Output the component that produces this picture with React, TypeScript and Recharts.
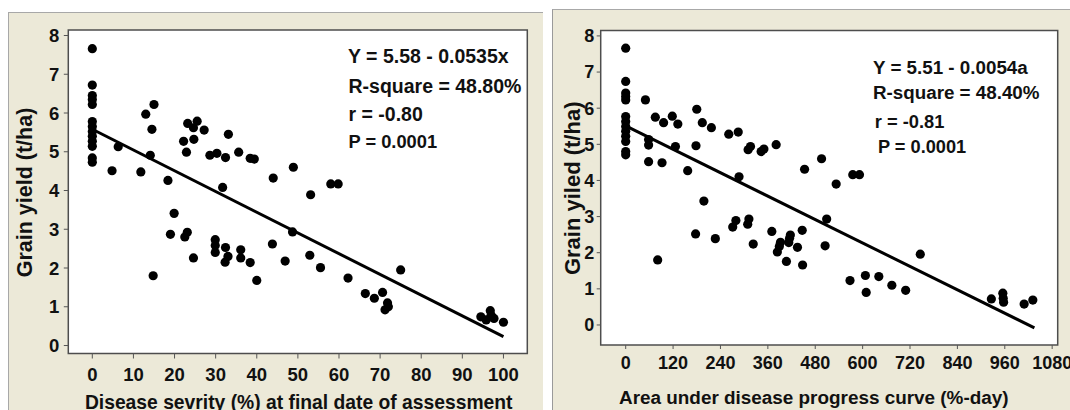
import React from "react";
import { ScatterChart, Scatter, XAxis, YAxis, ReferenceArea } from "recharts";

const FONT = "'Liberation Sans', Arial, Helvetica, sans-serif";

// ---- Left panel: disease severity (%) vs grain yield (t/ha)
const severity = [0, 0, 0, 0, 0, 0, 0, 0, 0, 0, 0, 0, 0,
  4.8, 6.3, 11.8, 13.0, 15.0, 14.5, 14.1, 14.8, 18.4, 19.9, 19.0, 22.5, 23.1, 22.2, 22.9,
  23.2, 24.6, 25.5, 24.7, 27.2, 24.6, 28.6, 30.3, 32.4, 33.1, 31.7, 35.6, 38.4, 39.4, 29.9,
  29.9, 29.9, 32.4, 33.0, 32.3, 36.1, 36.1, 38.4, 40.0, 43.8, 46.9, 48.7, 44.0, 48.9, 52.9,
  55.5, 53.1, 58.0, 59.8, 62.2, 66.4, 68.6, 70.6, 71.8, 72.0, 71.2, 75.0, 94.5, 95.8, 96.8,
  97.0, 97.7, 100.0];
const severityYield = [7.66, 6.72, 6.45, 6.35, 6.22, 5.78, 5.65, 5.52, 5.4, 5.27, 5.14, 4.84, 4.73,
  4.51, 5.13, 4.48, 5.97, 6.22, 5.58, 4.91, 1.8, 4.26, 3.41, 2.87, 2.8, 2.92, 5.27, 4.99,
  5.73, 5.62, 5.79, 5.32, 5.56, 2.26, 4.91, 4.96, 4.85, 5.45, 4.08, 4.99, 4.83, 4.81, 2.73,
  2.58, 2.4, 2.53, 2.3, 2.15, 2.47, 2.26, 2.14, 1.68, 2.62, 2.18, 2.93, 4.32, 4.6, 2.33,
  2.01, 3.89, 4.17, 4.17, 1.74, 1.34, 1.22, 1.37, 1.1, 1.0, 0.92, 1.95, 0.74, 0.66, 0.9,
  0.78, 0.7, 0.6];
const severityFitX = [0, 100];
const severityFitY = [5.58, 0.23];
const severityTicks = [0, 10, 20, 30, 40, 50, 60, 70, 80, 90, 100];

// ---- Right panel: AUDPC (%-day) vs grain yield (t/ha)
const audpc = [0, 0, 0, 0, 0, 0, 0, 0, 0, 0, 0, 0, 0,
  50, 75, 96, 118, 132, 58, 58, 58, 92, 126, 157, 180, 194, 217, 178, 198, 177, 227, 81, 261,
  285, 287, 310, 316, 343, 350, 381, 271, 279, 309, 312, 323, 370, 384, 389, 392, 407, 413,
  415, 417, 435, 447, 448, 453, 496, 505, 509, 533, 575, 592, 568, 607, 609, 641, 674, 709,
  746, 926, 955, 956, 957, 1009, 1031];
const audpcYield = [7.66, 6.74, 6.42, 6.32, 6.23, 5.77, 5.63, 5.49, 5.36, 5.22, 5.08, 4.8, 4.71,
  6.23, 5.75, 5.6, 5.78, 5.56, 5.13, 4.98, 4.52, 4.49, 4.94, 4.27, 5.97, 5.6, 5.46, 4.96, 3.43,
  2.52, 2.39, 1.8, 5.28, 5.34, 4.1, 4.85, 4.94, 4.8, 4.87, 4.99, 2.71, 2.89, 2.79, 2.93, 2.24,
  2.59, 2.02, 2.17, 2.29, 1.76, 2.28, 2.4, 2.49, 2.15, 2.62, 1.66, 4.31, 4.6, 2.19, 2.93, 3.9,
  4.16, 4.16, 1.23, 1.37, 0.9, 1.34, 1.1, 0.96, 1.96, 0.72, 0.88, 0.74, 0.63, 0.58, 0.69];
const audpcFitX = [0, 1035];
const audpcFitY = [5.51, -0.08];
const audpcTicks = [0, 120, 240, 360, 480, 600, 720, 840, 960, 1080];

const yieldTicks = [0, 1, 2, 3, 4, 5, 6, 7, 8];

const zip = (xs: number[], ys: number[]) => xs.map((x, i) => ({ x, y: ys[i] }));
const severityData = zip(severity, severityYield);
const severityFit = zip(severityFitX, severityFitY);
const audpcData = zip(audpc, audpcYield);
const audpcFit = zip(audpcFitX, audpcFitY);

const BEIGE = "#ECE9D8";

const Dot = (props: any) => {
  const { cx, cy } = props;
  if (cx == null || cy == null) return <g />;
  return <circle cx={cx} cy={cy} r={4.6} fill="#000" />;
};
const NoDot = () => <g />;

const tickStyle = (size: number) => ({
  fill: "#111",
  fontSize: size,
  fontFamily: FONT,
  fontWeight: "bold" as const,
});

export default function App() {
  const sevDomX: [number, number] = [-5.84, 105.8];
  const sevDomY: [number, number] = [-0.206, 8.142];
  const audDomX: [number, number] = [-63.3, 1094];
  const audDomY: [number, number] = [-0.554, 8.15];
  return (
    <div style={{ position: "absolute", left: 0, top: 0, width: 1070, height: 410, overflow: "hidden", background: "#fff" }}>
      {/* panel backgrounds */}
      <div style={{ position: "absolute", left: 8, top: 12, width: 535, height: 410, background: BEIGE, borderTop: "1px solid #a8a8a8", borderLeft: "1px solid #a8a8a8", boxSizing: "border-box" }} />
      <div style={{ position: "absolute", left: 552, top: 9, width: 530, height: 410, background: BEIGE, borderTop: "1px solid #a8a8a8", borderLeft: "1px solid #9a9a9a", boxSizing: "border-box" }} />

      <div style={{ position: "absolute", left: 0, top: 0 }}>
        <ScatterChart width={540} height={410} margin={{ top: 30, right: 12.7, bottom: 0, left: 0 }}>
          <XAxis type="number" dataKey="x" domain={sevDomX} ticks={severityTicks} allowDataOverflow interval={0}
            tickSize={5} tickMargin={9.5} height={56.5} axisLine={false} tickLine={{ stroke: "#555" }} tick={tickStyle(18.5)} />
          <YAxis type="number" dataKey="y" domain={sevDomY} ticks={yieldTicks} allowDataOverflow interval={0}
            tickSize={4.5} tickMargin={4.5} width={68.3} axisLine={false} tickLine={{ stroke: "#555" }} tick={tickStyle(18.5)} />
          <ReferenceArea x1={sevDomX[0]} x2={sevDomX[1]} y1={sevDomY[0]} y2={sevDomY[1]} fill="#fff" fillOpacity={1} stroke="#4d4d4d" strokeWidth={1.5} />
          <Scatter data={severityData} shape={Dot} isAnimationActive={false} />
          <Scatter data={severityFit} shape={NoDot} line={{ stroke: "#000", strokeWidth: 3 }} isAnimationActive={false} />
        </ScatterChart>
      </div>

      <div style={{ position: "absolute", left: 540, top: 0 }}>
        <ScatterChart width={530} height={410} margin={{ top: 30.5, right: 12.3, bottom: 0, left: 0 }}>
          <XAxis type="number" dataKey="x" domain={audDomX} ticks={audpcTicks} allowDataOverflow interval={0}
            tickSize={4} tickMargin={7.5} height={65} axisLine={false} tickLine={{ stroke: "#555" }} tick={tickStyle(18)} />
          <YAxis type="number" dataKey="y" domain={audDomY} ticks={yieldTicks} allowDataOverflow interval={0}
            tickSize={4} tickMargin={2.5} width={60.7} axisLine={false} tickLine={{ stroke: "#555" }} tick={tickStyle(18)} />
          <ReferenceArea x1={audDomX[0]} x2={audDomX[1]} y1={audDomY[0]} y2={audDomY[1]} fill="#fff" fillOpacity={1} stroke="#4d4d4d" strokeWidth={1.5} />
          <Scatter data={audpcData} shape={Dot} isAnimationActive={false} />
          <Scatter data={audpcFit} shape={NoDot} line={{ stroke: "#000", strokeWidth: 3 }} isAnimationActive={false} />
        </ScatterChart>
      </div>

      {/* text overlay */}
      <svg width={1070} height={410} style={{ position: "absolute", left: 0, top: 0, pointerEvents: "none" }}>
        <g fontFamily={FONT} fontWeight="bold" fill="#111">
          <text x={348} y={63.3} fontSize={19.5}>Y = 5.58 - 0.0535x</text>
          <text x={348.5} y={93} fontSize={19.5}>R-square = 48.80%</text>
          <text x={348.5} y={120.5} fontSize={19.5}>r = -0.80</text>
          <text x={348.5} y={148.3} fontSize={18.3}>P = 0.0001</text>

          <text x={873} y={74} fontSize={18.8}>Y = 5.51 - 0.0054a</text>
          <text x={873} y={99} fontSize={18.8}>R-square = 48.40%</text>
          <text x={874.7} y={127.7} fontSize={18.3}>r = -0.81</text>
          <text x={878} y={152.7} fontSize={18.2}>P = 0.0001</text>

          <text x={298.7} y={408.8} fontSize={19.3} textAnchor="middle">Disease sevrity (%) at final date of assessment</text>
          <text x={813.8} y={404} fontSize={18.9} textAnchor="middle">Area under disease progress curve (%-day)</text>

          <text x={24} y={192.5} fontSize={21.5} textAnchor="middle" dy="0.35em" transform="rotate(-90 24 192.5)">Grain yield (t/ha)</text>
          <text x={572} y={188.3} fontSize={22} textAnchor="middle" dy="0.35em" transform="rotate(-90 572 188.3)">Grain yiled (t/ha)</text>
        </g>
      </svg>
    </div>
  );
}
